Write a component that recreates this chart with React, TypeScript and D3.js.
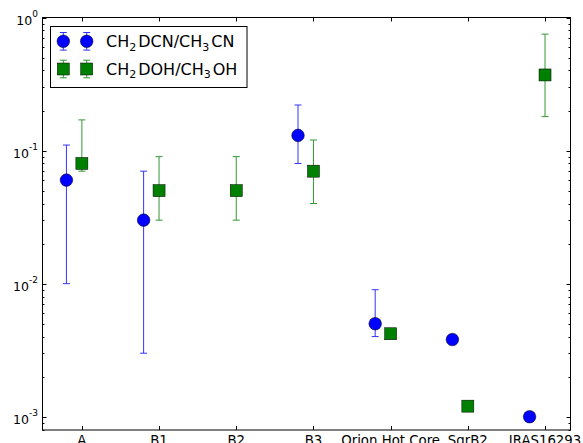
import { useEffect, useRef } from 'react'
import * as d3 from 'd3'

const W = 583
const H = 443
// plot frame (px)
const FX0 = 42.5
const FX1 = 570.5
const FY0 = 17.5
const FY1 = 430

const categories = ['A', 'B1', 'B2', 'B3', 'Orion Hot Core', 'SgrB2', 'IRAS16293']

// CH2DCN/CH3CN (blue circles), no B2 value
const dcnIdx = [0, 1, 3, 4, 5, 6]
const dcnVal = [0.06, 0.03, 0.13, 0.005, 0.0038, 0.001]
const dcnLo = [0.01, 0.003, 0.08, 0.004, null, null]
const dcnHi = [0.11, 0.07, 0.22, 0.009, null, null]

// CH2DOH/CH3OH (green squares)
const dohIdx = [0, 1, 2, 3, 4, 5, 6]
const dohVal = [0.08, 0.05, 0.05, 0.07, 0.0042, 0.0012, 0.37]
const dohLo = [0.07, 0.03, 0.03, 0.04, null, null, 0.18]
const dohHi = [0.17, 0.09, 0.09, 0.12, null, null, 0.75]

const yTicks = [1e-3, 1e-2, 1e-1, 1]
const yTickExp = ['-3', '-2', '-1', '0']

const BLUE = '#0000ff'
const GREEN = '#008000'
const FONT = '"DejaVu Sans", Verdana, sans-serif'

type Pt = { x: number; v: number; lo: number | null; hi: number | null }

export default function App() {
  const svgRef = useRef<SVGSVGElement>(null)

  useEffect(() => {
    const svg = d3.select(svgRef.current)
    svg.selectAll('*').remove()

    const x = d3.scaleLinear().domain([-0.51, 6.33]).range([FX0, FX1])
    const y = d3.scaleLog().domain([Math.pow(10, -3.1), 1]).range([FY1, FY0])

    svg.append('rect').attr('width', W).attr('height', H).attr('fill', '#fff')

    const dcn: Pt[] = dcnIdx.map((i, k) => ({ x: i - 0.2, v: dcnVal[k], lo: dcnLo[k], hi: dcnHi[k] }))
    const doh: Pt[] = dohIdx.map((i, k) => ({ x: i, v: dohVal[k], lo: dohLo[k], hi: dohHi[k] }))

    // ── error bars ──
    const drawErr = (pts: Pt[], color: string) => {
      const g = svg.append('g').attr('stroke', color).attr('stroke-width', 1).attr('opacity', 0.8)
      pts.filter((p) => p.lo != null && p.hi != null).forEach((p) => {
        const cx = x(p.x)
        const y1 = y(p.lo as number)
        const y2 = y(p.hi as number)
        g.append('line').attr('x1', cx).attr('x2', cx).attr('y1', y1).attr('y2', y2)
        ;[y1, y2].forEach((yy) =>
          g.append('line').attr('x1', cx - 3.5).attr('x2', cx + 3.5).attr('y1', yy).attr('y2', yy))
      })
    }

    drawErr(dcn, BLUE)
    svg.append('g').selectAll('circle').data(dcn).join('circle')
      .attr('cx', (d) => x(d.x)).attr('cy', (d) => y(d.v)).attr('r', 6.3)
      .attr('fill', BLUE).attr('stroke', '#000').attr('stroke-width', 0.5)

    drawErr(doh, GREEN)
    svg.append('g').selectAll('rect').data(doh).join('rect')
      .attr('x', (d) => x(d.x) - 6).attr('y', (d) => y(d.v) - 6)
      .attr('width', 12).attr('height', 12)
      .attr('fill', GREEN).attr('stroke', '#000').attr('stroke-width', 0.5)

    // ── ticks (inward, all four sides) ──
    const tg = svg.append('g').attr('stroke', '#000').attr('stroke-width', 1)
    categories.forEach((_, i) => {
      const cx = Math.round(x(i)) + 0.5
      tg.append('line').attr('x1', cx).attr('x2', cx).attr('y1', FY1).attr('y2', FY1 - 4)
      tg.append('line').attr('x1', cx).attr('x2', cx).attr('y1', FY0).attr('y2', FY0 + 4)
    })
    const [dMin, dMax] = y.domain()
    for (let e = -4; e <= 0; e++) {
      for (let k = 1; k <= 9; k++) {
        const v = k * Math.pow(10, e)
        if (v < dMin || v > dMax) continue
        const yy = Math.round(y(v)) + 0.5
        const len = k === 1 ? 4 : 2
        tg.append('line').attr('x1', FX0).attr('x2', FX0 + len).attr('y1', yy).attr('y2', yy)
        tg.append('line').attr('x1', FX1).attr('x2', FX1 - len).attr('y1', yy).attr('y2', yy)
      }
    }

    // ── frame ──
    svg.append('rect')
      .attr('x', FX0).attr('y', FY0).attr('width', FX1 - FX0).attr('height', FY1 - FY0)
      .attr('fill', 'none').attr('stroke', '#000').attr('stroke-width', 1)

    // ── x tick labels ──
    svg.append('g').selectAll('text').data(categories).join('text')
      .attr('x', (_, i) => x(i)).attr('y', FY1 + 14.5)
      .attr('text-anchor', 'middle').attr('font-family', FONT).attr('font-size', 13.3)
      .attr('fill', '#000').text((d) => d)

    // ── y tick labels 10^n ──
    yTicks.forEach((v, i) => {
      const t = svg.append('text')
        .attr('x', 38).attr('y', y(v) + 7.8)
        .attr('text-anchor', 'end').attr('font-family', FONT).attr('font-size', 12.5)
        .attr('fill', '#000')
      t.append('tspan').text('10')
      t.append('tspan').attr('font-size', 9).attr('dy', -8.5).text(yTickExp[i])
    })

    // ── legend ──
    const leg = svg.append('g')
    leg.append('rect')
      .attr('x', 50.5).attr('y', 26.5).attr('width', 196.5).attr('height', 61)
      .attr('fill', '#fff').attr('stroke', '#000').attr('stroke-width', 1)

    const rows = [
      { color: BLUE, shape: 'circle', cy: 41.3, parts: ['CH', '2', 'DCN/CH', '3', 'CN'] },
      { color: GREEN, shape: 'square', cy: 69, parts: ['CH', '2', 'DOH/CH', '3', 'OH'] },
    ]
    rows.forEach((r) => {
      ;[63.3, 86.7].forEach((mx) => {
        const eg = leg.append('g').attr('stroke', r.color).attr('stroke-width', 1).attr('opacity', 0.8)
        eg.append('line').attr('x1', mx).attr('x2', mx).attr('y1', r.cy - 8.8).attr('y2', r.cy + 8.8)
        ;[r.cy - 8.8, r.cy + 8.8].forEach((yy) =>
          eg.append('line').attr('x1', mx - 3.5).attr('x2', mx + 3.5).attr('y1', yy).attr('y2', yy))
        if (r.shape === 'circle') {
          leg.append('circle').attr('cx', mx).attr('cy', r.cy).attr('r', 6.3)
            .attr('fill', r.color).attr('stroke', '#000').attr('stroke-width', 0.5)
        } else {
          leg.append('rect').attr('x', mx - 6).attr('y', r.cy - 6).attr('width', 12).attr('height', 12)
            .attr('fill', r.color).attr('stroke', '#000').attr('stroke-width', 0.5)
        }
      })
      const t = leg.append('text')
        .attr('x', 106).attr('y', r.cy + 5.6)
        .attr('font-family', FONT).attr('font-size', 16).attr('fill', '#000')
      t.append('tspan').text(r.parts[0])
      t.append('tspan').attr('font-size', 11).attr('dy', 3.6).text(r.parts[1])
      t.append('tspan').attr('dy', -3.6).attr('dx', 2).text(r.parts[2])
      t.append('tspan').attr('font-size', 11).attr('dy', 3.6).text(r.parts[3])
      t.append('tspan').attr('dy', -3.6).attr('dx', 2).text(r.parts[4])
    })
  }, [])

  return (
    <svg
      ref={svgRef}
      width={W}
      height={H}
      viewBox={`0 0 ${W} ${H}`}
      style={{ position: 'absolute', left: 0, top: 0, display: 'block' }}
    />
  )
}
